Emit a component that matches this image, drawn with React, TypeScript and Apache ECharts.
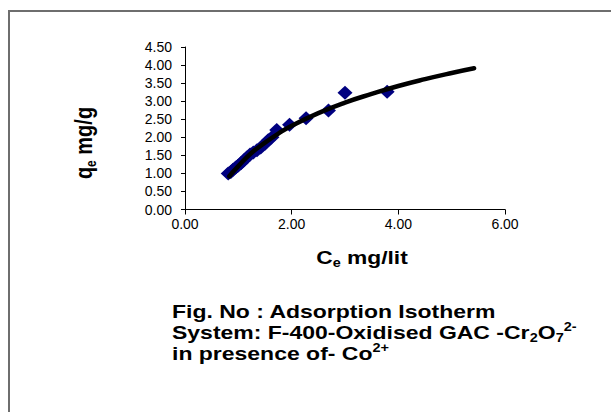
import React, { useEffect, useRef } from "react";
import * as echarts from "echarts";

const xTicks = [0, 2, 4, 6];
const yTicks = [0, 0.5, 1, 1.5, 2, 2.5, 3, 3.5, 4, 4.5];

// Measured points (Ce mg/lit, qe mg/g)
const ceValues = [0.81, 0.86, 0.9, 0.95, 1.0, 1.05, 1.1, 1.16, 1.22, 1.28, 1.35, 1.42, 1.5, 1.56, 1.63, 1.72, 1.96, 2.27, 2.69, 3.0, 3.79];
const qeValues = [1.0, 1.04, 1.1, 1.16, 1.22, 1.28, 1.36, 1.44, 1.52, 1.58, 1.64, 1.72, 1.82, 1.92, 2.0, 2.2, 2.35, 2.53, 2.74, 3.23, 3.26];

// Trend curve
const curveCe = [0.83, 1.0, 1.25, 1.5, 1.75, 2.0, 2.5, 3.0, 3.5, 4.0, 4.5, 5.0, 5.42];
const curveQe = [0.92, 1.2, 1.57, 1.85, 2.1, 2.32, 2.67, 2.96, 3.2, 3.42, 3.61, 3.78, 3.91];

const FONT = "'Liberation Sans', Arial, sans-serif";

export default function App() {
  const ref = useRef<HTMLDivElement>(null);
  useEffect(() => {
    if (!ref.current) return;
    const chart = echarts.init(ref.current, undefined, { renderer: "svg" });
    const rich = (size: number) => ({
      b: { fontFamily: FONT, fontWeight: "bold", fontSize: size, lineHeight: size + 4, color: "#000" },
      sub: { fontFamily: FONT, fontWeight: "bold", fontSize: Math.round(size * 0.62), lineHeight: Math.round(size * 0.62), verticalAlign: "bottom", color: "#000" },
      sup: { fontFamily: FONT, fontWeight: "bold", fontSize: Math.round(size * 0.62), lineHeight: Math.round(size * 0.62), verticalAlign: "top", color: "#000" },
    });
    chart.setOption({
      animation: false,
      backgroundColor: "#fff",
      grid: { left: 185, right: 106, top: 47, bottom: 202.5, containLabel: false },
      xAxis: {
        type: "value",
        min: xTicks[0],
        max: xTicks[xTicks.length - 1],
        interval: 2,
        axisLine: { lineStyle: { color: "#000", width: 1 } },
        axisTick: { show: true, inside: false, length: 5, lineStyle: { color: "#000" } },
        splitLine: { show: false },
        axisLabel: { color: "#000", fontFamily: FONT, fontSize: 14, margin: 7, formatter: (v: number) => v.toFixed(2) },
      },
      yAxis: {
        type: "value",
        min: yTicks[0],
        max: yTicks[yTicks.length - 1],
        interval: 0.5,
        axisLine: { show: true, lineStyle: { color: "#000", width: 1 } },
        axisTick: { show: true, inside: false, length: 4, lineStyle: { color: "#000" } },
        splitLine: { show: false },
        axisLabel: { color: "#000", fontFamily: FONT, fontSize: 14, margin: 13, formatter: (v: number) => v.toFixed(2) },
      },
      series: [
        {
          type: "scatter",
          symbol: "diamond",
          symbolSize: [15, 14],
          itemStyle: { color: "#000080", opacity: 1 },
          data: ceValues.map((c, i) => [c, qeValues[i]]),
          z: 2,
        },
        {
          type: "line",
          smooth: true,
          showSymbol: false,
          lineStyle: { color: "#000", width: 4.5, cap: "round" },
          data: curveCe.map((c, i) => [c, curveQe[i]]),
          z: 3,
        },
      ],
      graphic: [
        { type: "line", shape: { x1: 8, y1: 11, x2: 611, y2: 11 }, style: { stroke: "#6e6e6e", lineWidth: 2 } },
        { type: "line", shape: { x1: 9, y1: 11, x2: 9, y2: 412 }, style: { stroke: "#6e6e6e", lineWidth: 2 } },
        {
          type: "text",
          x: 84,
          y: 143,
          rotation: Math.PI / 2,
          scaleY: 1.15,
          style: { text: "{b|q}{sub|e}{b| mg/g}", rich: rich(20), align: "center", verticalAlign: "middle" },
        },
        {
          type: "text",
          x: 362,
          y: 257,
          scaleX: 1.2,
          style: { text: "{b|C}{sub|e}{b| mg/lit}", rich: rich(19), align: "center", verticalAlign: "middle" },
        },
        {
          type: "text",
          x: 172,
          y: 311.5,
          scaleX: 1.21,
          style: { text: "{b|Fig. No : Adsorption Isotherm}", rich: rich(19), align: "left", verticalAlign: "middle" },
        },
        {
          type: "text",
          x: 172,
          y: 332.5,
          scaleX: 1.21,
          style: { text: "{b|System: F-400-Oxidised GAC -Cr}{sub|2}{b|O}{sub|7}{sup|2-}", rich: rich(19), align: "left", verticalAlign: "middle" },
        },
        {
          type: "text",
          x: 172,
          y: 353.5,
          scaleX: 1.21,
          style: { text: "{b|in presence of- Co}{sup|2+}", rich: rich(19), align: "left", verticalAlign: "middle" },
        },
      ],
    });
    return () => chart.dispose();
  }, []);
  return <div ref={ref} style={{ position: "fixed", left: 0, top: 0, width: 611, height: 412, background: "#fff" }} />;
}
